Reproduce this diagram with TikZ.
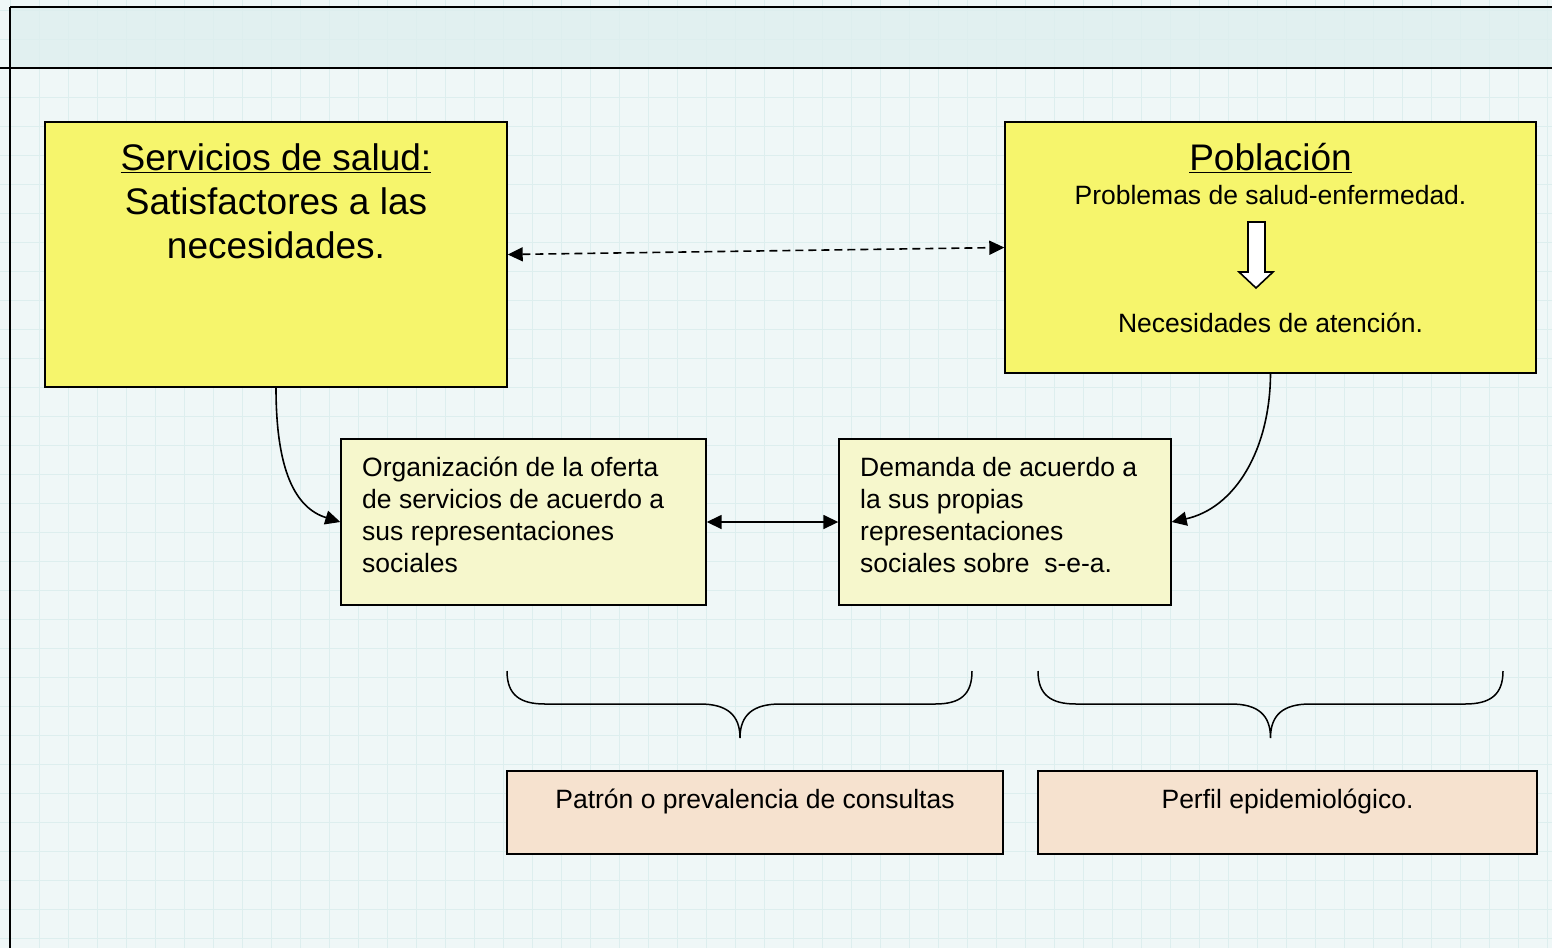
\documentclass[tikz,border=0pt]{standalone}
\usepackage{fontspec}
\setmainfont{Liberation Sans}
\usetikzlibrary{arrows.meta}
\definecolor{bgc}{HTML}{EFF7F7}
\definecolor{bandc}{HTML}{E1F0F0}
\definecolor{gridc}{HTML}{DDEEEE}
\definecolor{bigy}{HTML}{F6F56C}
\definecolor{smally}{HTML}{F6F7CC}
\definecolor{peach}{HTML}{F6E2CF}
\tikzset{
  bigbox/.style={draw=black, line width=1.4pt, fill=bigy, inner sep=0pt},
  smallbox/.style={draw=black, line width=1.4pt, fill=smally, inner sep=0pt},
  resbox/.style={draw=black, line width=1.4pt, fill=peach, inner sep=0pt},
  txt/.style={inner sep=0pt, font=\fontsize{26.5}{32}\selectfont},
  bigtxt/.style={inner sep=0pt, font=\fontsize{37}{44}\selectfont},
  tip/.style={-{Triangle[length=15pt,width=14pt]}},
  dtip/.style={{Triangle[length=15pt,width=14pt]}-{Triangle[length=15pt,width=14pt]}},
  conn/.style={line width=1.6pt},
  bracepath/.style={line width=1.5pt}
}
\begin{document}
\begin{tikzpicture}[x=1pt,y=-1pt]
\useasboundingbox (0,0) rectangle (1552,948);
\fill[bgc] (0,0) rectangle (1552,948);
\fill[bandc] (10,7) rectangle (1552,68);
\foreach \g in {10,39,...,1552} \draw[gridc, line width=0.8pt] (\g,0) -- (\g,948);
\foreach \g in {10,39,...,948} \draw[gridc, line width=0.8pt] (0,\g) -- (1552,\g);
\draw[line width=1.4pt] (10,7) -- (1552,7);
\draw[line width=1.4pt] (0,68) -- (1552,68);
\draw[line width=1.4pt] (10,7) -- (10,948);

% big boxes
\node[bigbox, minimum width=462pt, minimum height=265pt] (serv) at (276,254.5) {};
\node[bigbox, minimum width=531pt, minimum height=251pt] (pob) at (1270.5,247.5) {};
% small boxes
\node[smallbox, minimum width=365pt, minimum height=166pt] (org) at (523.5,522) {};
\node[smallbox, minimum width=332pt, minimum height=166pt] (dem) at (1005,522) {};
% result boxes
\node[resbox, minimum width=496pt, minimum height=83pt] (pat) at (755,812.5) {};
\node[resbox, minimum width=499pt, minimum height=83pt] (per) at (1287.5,812.5) {};

% texts
\node[bigtxt, align=center, anchor=north] (servt) at (276,143)
  {\underline{Servicios de salud:}\\Satisfactores a las\\necesidades.};
\node[bigtxt, anchor=base] (pobt) at (1270.5,170) {\underline{Población}};
\node[txt, anchor=base] (prob) at (1270.5,204) {Problemas de salud-enfermedad.};
\node[txt, anchor=base] (nec) at (1270.5,332) {Necesidades de atención.};
\node[txt, align=left, anchor=north west] (orgt) at (362,457)
  {Organización de la oferta\\de servicios de acuerdo a\\sus representaciones\\sociales};
\node[txt, align=left, anchor=north west] (demt) at (860,457)
  {Demanda de acuerdo a\\la sus propias\\representaciones\\sociales sobre\ \ s-e-a.};
\node[txt, anchor=base] (patt) at (755,808) {Patrón o prevalencia de consultas};
\node[txt, anchor=base] (pert) at (1287.5,808) {Perfil epidemiológico.};

% hollow arrow
\draw[line width=1.6pt, fill=white, line join=miter]
  (1248,222) -- (1265,222) -- (1265,272) -- (1273,272) -- (1256,288)
  -- (1239,272) -- (1248,272) -- cycle;

% connectors
\draw[conn, dtip, dash pattern=on 8pt off 5pt] (serv.east) -- (pob.west);
\draw[conn, dtip] (org.east) -- (dem.west);
\draw[conn, tip] (serv.south) .. controls (276,470) and (295,508) .. (org.west);
\draw[conn, tip] (pob.south) .. controls (1270,450) and (1235,508) .. (dem.west -| dem.east);

% braces
\coordinate (b1l) at (507,671);
\coordinate (b1r) at (972,671);
\coordinate (b1t) at (740,738);
\draw[bracepath] (b1l) .. controls (507,695) and (520,704) .. (545,704) -- (700,704)
  .. controls (727,704) and (740,715) .. (b1t)
  .. controls (740,715) and (753,704) .. (780,704) -- (935,704)
  .. controls (960,704) and (972,695) .. (b1r);
\coordinate (b2l) at (1038,671);
\coordinate (b2r) at (1503,671);
\coordinate (b2t) at (1270.5,738);
\draw[bracepath] (b2l) .. controls (1038,695) and (1051,704) .. (1076,704) -- (1231,704)
  .. controls (1258,704) and (1270.5,715) .. (b2t)
  .. controls (1270.5,715) and (1283,704) .. (1310,704) -- (1465,704)
  .. controls (1490,704) and (1503,695) .. (b2r);
\end{tikzpicture}
\end{document}
